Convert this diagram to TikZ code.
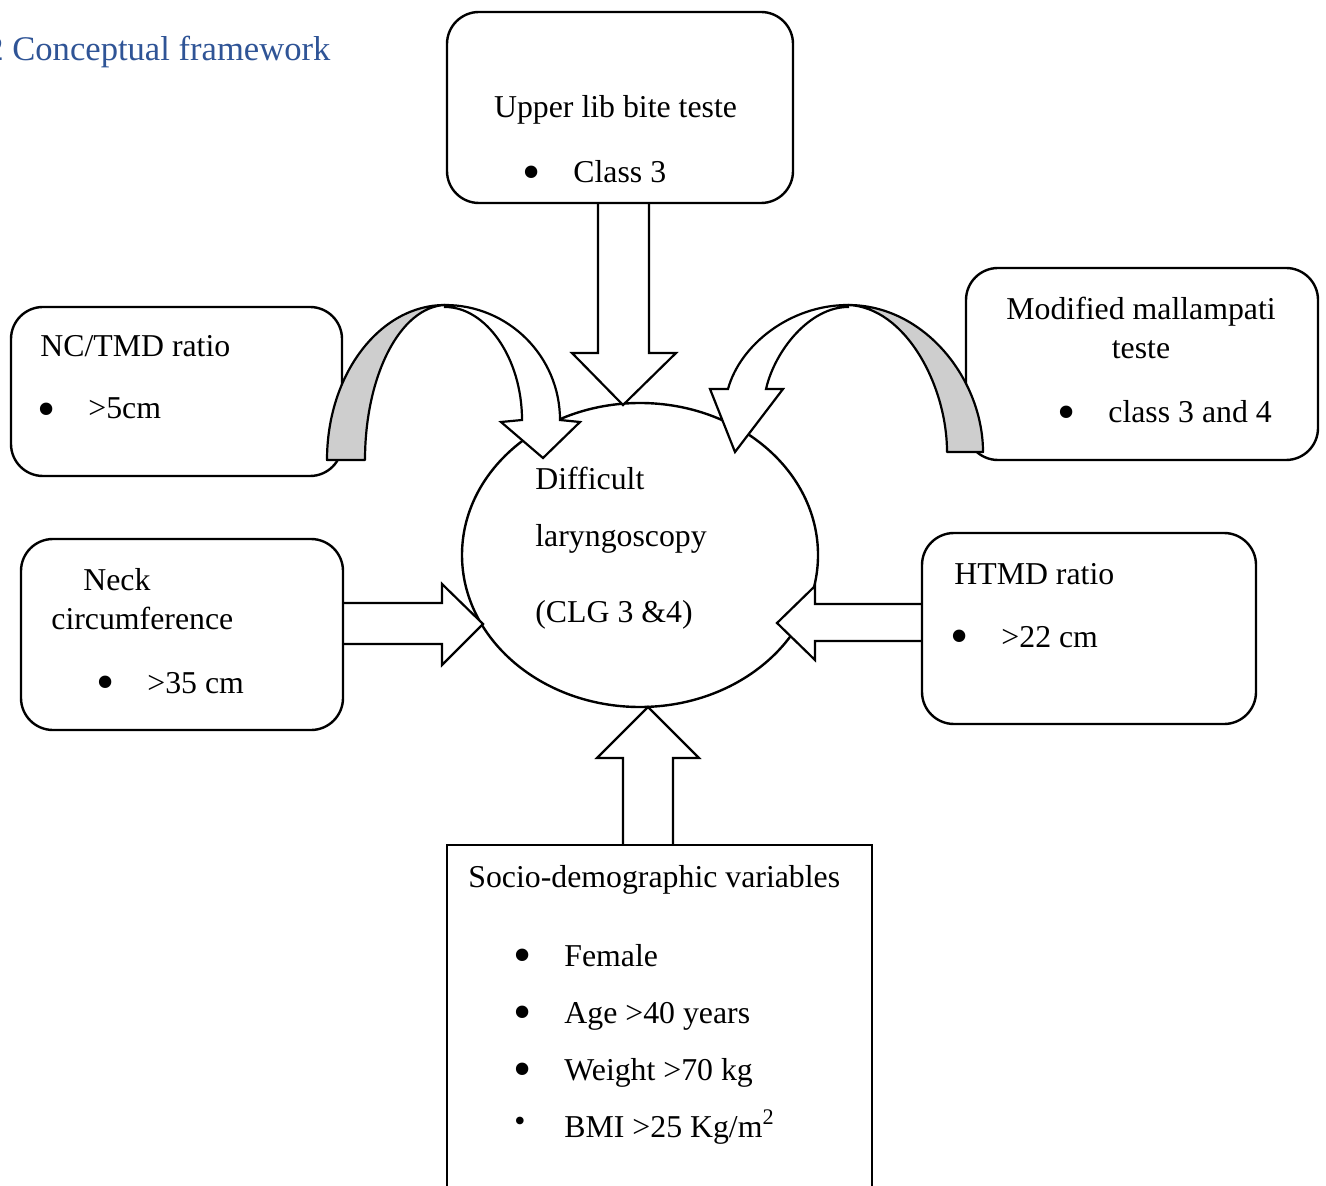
\documentclass[tikz,border=0pt]{standalone}
\usepackage{fontspec}
\setmainfont{Liberation Serif}
\usetikzlibrary{shapes.geometric}
\definecolor{titleblue}{RGB}{47,84,150}
\definecolor{bandgrey}{RGB}{206,206,206}
\tikzset{
  txt/.style={inner sep=0pt, anchor=base west, font=\fontsize{15.9}{19}\selectfont},
  ctxt/.style={txt, anchor=base},
  bul/.style={inner sep=0pt, anchor=center, yshift=-3pt, font=\fontsize{26}{30}\selectfont},
  rbox/.style={draw, line width=1.2pt, rounded corners=16pt, fill=white, inner sep=0pt},
  sbox/.style={draw, line width=1.2pt, fill=white, inner sep=0pt},
  blockarrow/.style={draw, line width=1.1pt, fill=white, line join=miter},
  band/.style={draw, line width=1.1pt, fill=bandgrey, line join=round},
}
\begin{document}
\begin{tikzpicture}[x=0.5pt,y=-0.5pt]
\useasboundingbox (0,0) rectangle (1326,1186);
\clip (0,0) rectangle (1326,1186);

% title
\node[inner sep=0pt, anchor=base west, text=titleblue, font=\fontsize{17.3}{20}\selectfont] (title) at (-14,61) {2 Conceptual framework};

% central ellipse
\node[draw, ellipse, line width=1.2pt, minimum width=178pt, minimum height=152pt, inner sep=0pt] (dl) at (640,555) {};
\node[txt] (dl1) at (535,490) {Difficult};
\node[txt] (dl2) at (535,546) {laryngoscopy};
\node[txt] (dl3) at (535,622) {(CLG 3 \&4)};

% straight block arrows
\fill[white] (598,203) -- (598,353) -- (572,353) -- (623,405) -- (676,353) -- (649,353) -- (649,203) -- cycle;
\draw[blockarrow, fill=none] (598,203) -- (598,353) -- (572,353) -- (623,405) -- (676,353) -- (649,353) -- (649,203);

\fill[white] (343,603) -- (442,603) -- (442,584) -- (483,624) -- (442,665) -- (442,644) -- (343,644) -- cycle;
\draw[blockarrow, fill=none] (343,603) -- (442,603) -- (442,584) -- (483,624) -- (442,665) -- (442,644) -- (343,644);

\fill[white] (922,604) -- (815,604) -- (815,586) -- (777,623) -- (815,660) -- (815,641) -- (922,641) -- cycle;
\draw[blockarrow, fill=none] (922,604) -- (815,604) -- (815,586) -- (777,623) -- (815,660) -- (815,641) -- (922,641);

\fill[white] (623,845) -- (623,758) -- (597,758) -- (648,707) -- (699,758) -- (673,758) -- (673,845) -- cycle;
\draw[blockarrow, fill=none] (623,845) -- (623,758) -- (597,758) -- (648,707) -- (699,758) -- (673,758) -- (673,845);

% boxes
\node[rbox, minimum width=173pt, minimum height=95.5pt] (ul) at (620,107.5) {};
\node[rbox, minimum width=165.5pt, minimum height=84.5pt] (nc) at (176.5,391.5) {};
\node[rbox, minimum width=176pt, minimum height=96pt] (mm) at (1142,364) {};
\node[rbox, minimum width=161pt, minimum height=95.5pt] (neck) at (182,634.5) {};
\node[rbox, minimum width=167pt, minimum height=95.5pt] (ht) at (1089,628.5) {};
\node[sbox, minimum width=212.5pt, minimum height=192.5pt] (sd) at (659.5,1037.5) {};

% curved arrows
\draw[band] (327,460) .. controls (327,374) and (380,305) .. (445,305)
  .. controls (400,307) and (365,376) .. (365,460) -- cycle;
\draw[blockarrow] (445,305) .. controls (508,305) and (560,356) .. (560,420)
  -- (580,422) -- (543,458) -- (501,422) -- (522,420)
  .. controls (522,358) and (486,307) .. (445,307) -- cycle;

\draw[band] (983,452) .. controls (983,380) and (925,305) .. (848,305)
  .. controls (905,307) and (947,385) .. (947,452) -- cycle;
\draw[blockarrow] (848,305) .. controls (790,305) and (740,345) .. (728,389)
  -- (710,389) -- (735,452) -- (783,389) -- (766,389)
  .. controls (775,350) and (810,307) .. (848,307) -- cycle;

% texts: top box
\node[ctxt] (ul1) at (615.5,118) {Upper lib bite teste};
\node[bul] (ulb) at (532,172) {\textbullet};
\node[txt] (ul2) at (573,183) {Class 3};

% NC/TMD
\node[txt] (nc1) at (40,357) {NC/TMD ratio};
\node[bul] (ncb) at (47,409) {\textbullet};
\node[txt] (nc2) at (88,419) {>5cm};

% Mallampati
\node[ctxt] (mm1) at (1141,320) {Modified mallampati};
\node[ctxt] (mm2) at (1141,359) {teste};
\node[bul] (mmb) at (1067,412) {\textbullet};
\node[txt] (mm3) at (1108,423) {class 3 and 4};

% Neck
\node[txt] (ne1) at (83,590) {Neck};
\node[txt] (ne2) at (51,629) {circumference};
\node[bul] (neb) at (106,682) {\textbullet};
\node[txt] (ne3) at (147,693) {>35 cm};

% HTMD
\node[txt] (ht1) at (954,584) {HTMD ratio};
\node[bul] (htb) at (960,636) {\textbullet};
\node[txt] (ht2) at (1001,647) {>22 cm};

% Socio-demographic
\node[txt] (sd0) at (468,887) {Socio-demographic variables};
\node[bul] (sdb1) at (523,955) {\textbullet};
\node[txt] (sd1) at (564,966) {Female};
\node[bul] (sdb2) at (523,1012) {\textbullet};
\node[txt] (sd2) at (564,1023) {Age >40 years};
\node[bul] (sdb3) at (523,1069) {\textbullet};
\node[txt] (sd3) at (564,1080) {Weight >70 kg};
\node[bul, yshift=1pt, font=\fontsize{15.9}{19}\selectfont] (sdb4) at (520,1120) {\textbullet};
\node[txt] (sd4) at (564,1137) {BMI >25 Kg/m\textsuperscript{2}};
\end{tikzpicture}
\end{document}
